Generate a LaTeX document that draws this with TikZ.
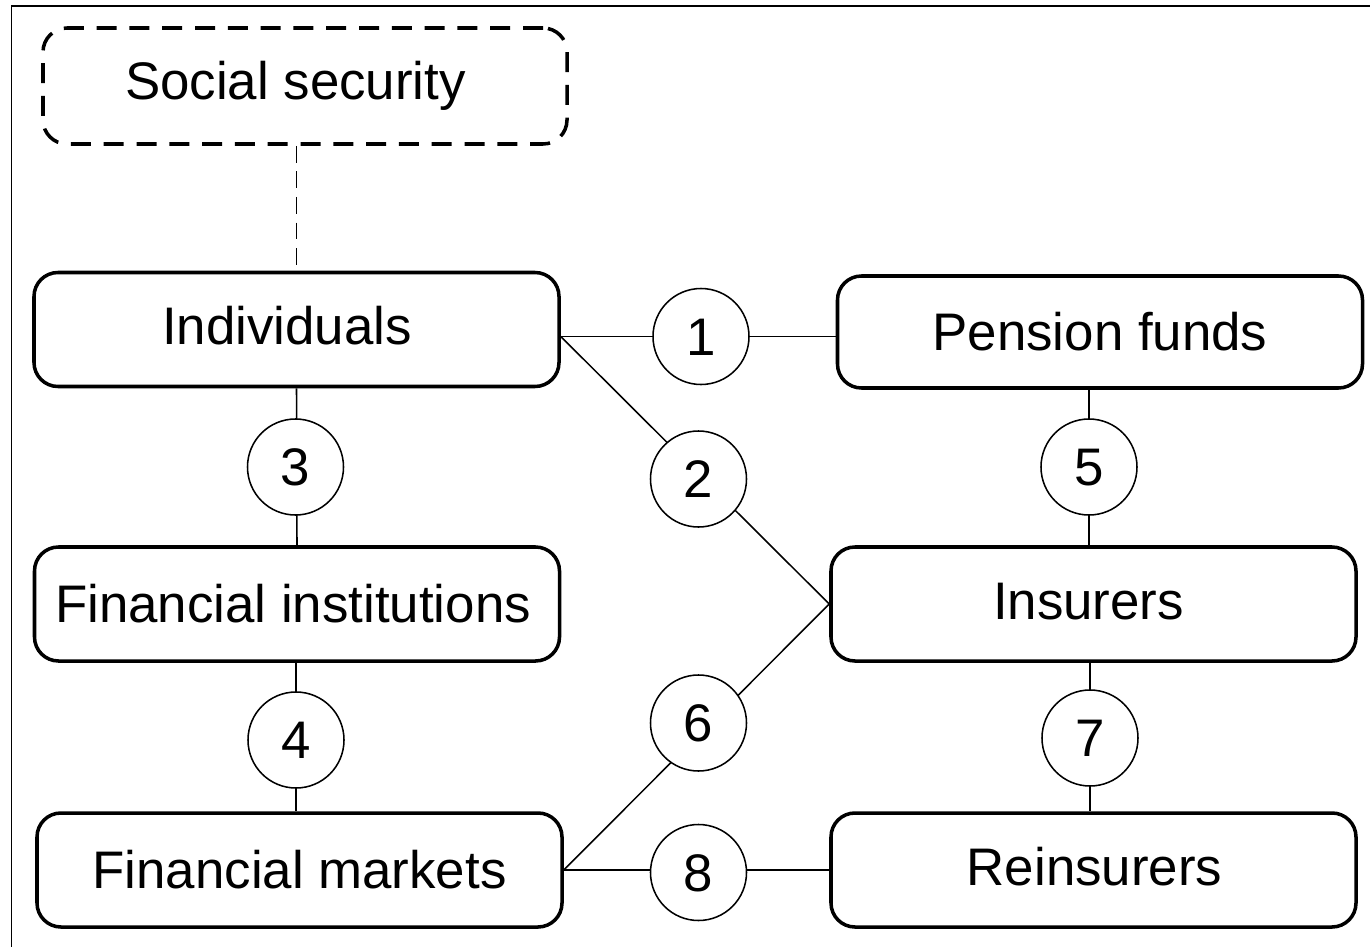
\documentclass[tikz,border=0pt]{standalone}
\usepackage{fontspec}
\setmainfont{Liberation Sans}
\usetikzlibrary{backgrounds}
\begin{document}
\begin{tikzpicture}[x=0.25mm,y=-0.25mm,
  txt/.style={font=\fontsize{37.6}{44}\selectfont, inner sep=0pt, text height=26.9pt, text depth=0pt},
  box/.style={txt, draw, fill=white, rounded corners=6mm, line width=2.5pt,
    minimum width=131.25mm, minimum height=28.5mm},
  dashbox/.style={box, dash pattern=on 5mm off 3.2mm},
  num/.style={txt, draw, fill=white, circle, line width=1.1pt, minimum size=24mm},
  link/.style={line width=1.1pt},
  dashlink/.style={link, dash pattern=on 4.2mm off 2.2mm},
  frame/.style={line width=1.1pt}]
\useasboundingbox (0,0) rectangle (1370,947);
% outer frame (top and left edges)
\draw[frame] (11.5,947) -- (11.5,6) -- (1370,6);

% boxes
\node[dashbox, minimum width=131mm, minimum height=29mm] (social) at (305,86) {};
\node[txt] (socialtext) at (295.5,80.5) {Social security};
\node[box] (indiv) at (296.5,329.5) {};
\node[txt] (indivtext) at (287,326) {Individuals};
\node[box] (fi) at (297,604) {};
\node[txt] (fitext) at (293,604) {Financial institutions};
\node[box] (fm) at (299.5,870) {Financial markets};
\node[box, minimum height=28mm] (pf) at (1100,332) {Pension funds};
\node[box] (ins) at (1093.5,604) {};
\node[txt] (instext) at (1088.5,601) {Insurers};
\node[box] (re) at (1093.5,870) {};
\node[txt] (retext) at (1094.5,867) {Reinsurers};

% numbered links
\node[num] (c1) at (701,336.5) {1};
\node[num] (c2) at (698.5,479) {2};
\node[num] (c3) at (295.5,467) {3};
\node[num] (c4) at (296,740) {4};
\node[num] (c5) at (1089,467) {5};
\node[num] (c6) at (698.5,723) {6};
\node[num] (c7) at (1090,738) {7};
\node[num] (c8) at (698.5,872.5) {8};

\begin{pgfonlayer}{background}
  \draw[dashlink] (social.south -| indiv.center) -- (indiv.north);
  \draw[link] (indiv.east |- c1) -- (pf.west |- c1);
  \draw[link] (indiv.east |- c1) -- (ins.west);
  \draw[link] (fm.east) -- (ins.west);
  \draw[link] (fm.east) -- (re.west);
  \draw[link] (indiv.south) -- (fi.north);
  \draw[link] (c4 |- fi.south) -- (c4 |- fm.north);
  \draw[link] (c5 |- pf.south) -- (c5 |- ins.north);
  \draw[link] (c7 |- ins.south) -- (c7 |- re.north);
\end{pgfonlayer}
\end{tikzpicture}
\end{document}
